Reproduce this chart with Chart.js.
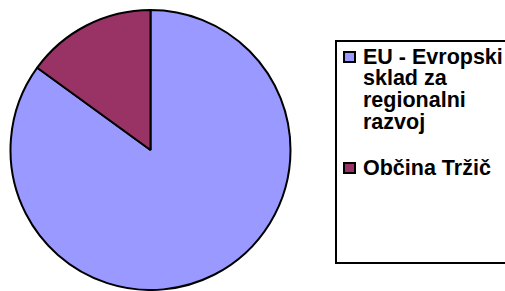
<!DOCTYPE html>
<html>
<head>
<meta charset="utf-8">
<script src="https://cdn.jsdelivr.net/npm/chart.js@4.4.1/dist/chart.umd.min.js"></script>
<style>
  html, body { margin: 0; padding: 0; background: #ffffff; }
  #wrap { position: relative; width: 505px; height: 291px; overflow: hidden; }
  #c { position: absolute; left: 0; top: 0; }
  #legend {
    position: absolute; left: 335px; top: 40px; width: 200px; height: 220px;
    border: 2px solid #000; background: #fff; box-sizing: content-box;
    font-family: "Liberation Sans", Arial, sans-serif; font-weight: bold;
    font-size: 21.5px; line-height: 21.7px; color: #000;
  }
  .item { position: relative; padding-left: 26px; width: 145px; }
  .item:first-child { margin-top: 4.7px; }
  .item + .item { margin-top: 24.2px; }
  .sw { position: absolute; left: 6px; top: 4.3px; width: 8.5px; height: 8.5px; border: 2px solid #000; }
</style>
</head>
<body>
<div id="wrap">
  <canvas id="c" width="505" height="291"></canvas>
  <div id="legend"></div>
</div>
<script>
const categories = ["EU - Evropski sklad za regionalni razvoj", "Občina Tržič"];
const values = [85, 15];
const colors = ["#9999FF", "#993366"];

const legend = document.getElementById('legend');
categories.forEach((name, i) => {
  const it = document.createElement('div');
  it.className = 'item';
  const sw = document.createElement('span');
  sw.className = 'sw';
  sw.style.background = colors[i];
  it.appendChild(sw);
  it.appendChild(document.createTextNode(name));
  legend.appendChild(it);
});

new Chart(document.getElementById('c'), {
  type: 'pie',
  data: {
    labels: categories,
    datasets: [{
      data: values,
      backgroundColor: colors,
      borderColor: '#000000',
      borderWidth: 2
    }]
  },
  options: {
    responsive: false,
    animation: false,
    layout: { padding: { left: 9, right: 213, top: 9, bottom: 0 } },
    plugins: { legend: { display: false }, tooltip: { enabled: false } }
  }
});
</script>
</body>
</html>
